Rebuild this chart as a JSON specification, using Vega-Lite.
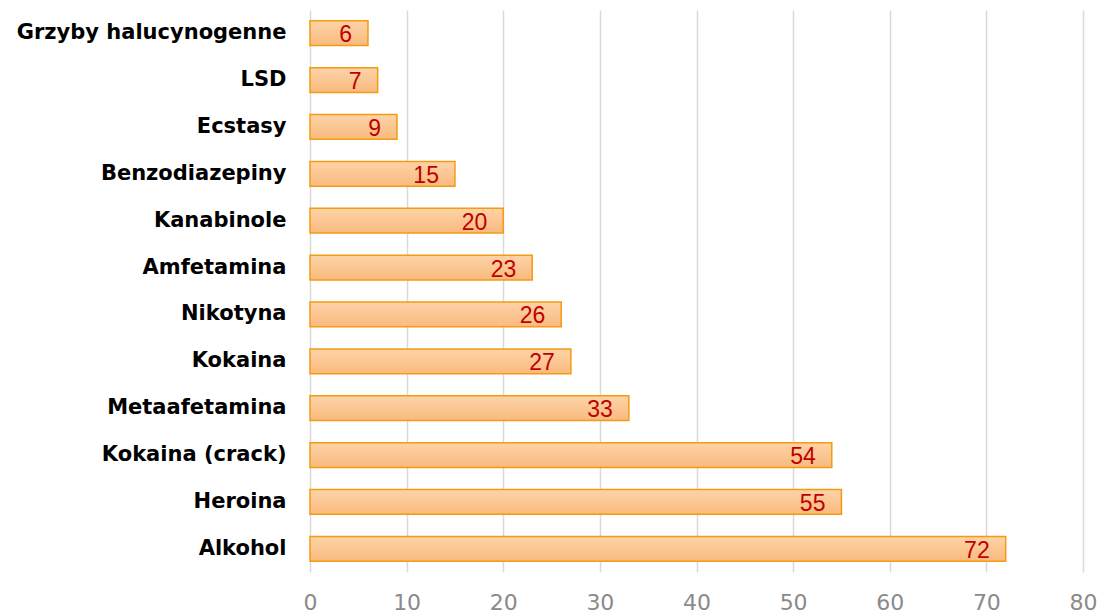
{
  "$schema": "https://vega.github.io/schema/vega-lite/v6.json",
  "width": 773,
  "height": 562,
  "autosize": {"type": "none"},
  "padding": {"left": 310, "top": 10, "right": 18, "bottom": 43},
  "background": "white",
  "data": {"values": [
    {"substancja": "Grzyby halucynogenne", "wartosc": 6},
    {"substancja": "LSD", "wartosc": 7},
    {"substancja": "Ecstasy", "wartosc": 9},
    {"substancja": "Benzodiazepiny", "wartosc": 15},
    {"substancja": "Kanabinole", "wartosc": 20},
    {"substancja": "Amfetamina", "wartosc": 23},
    {"substancja": "Nikotyna", "wartosc": 26},
    {"substancja": "Kokaina", "wartosc": 27},
    {"substancja": "Metaafetamina", "wartosc": 33},
    {"substancja": "Kokaina (crack)", "wartosc": 54},
    {"substancja": "Heroina \u00a0", "wartosc": 55},
    {"substancja": "Alkohol", "wartosc": 72}
  ]},
  "encoding": {
    "y": {
      "field": "substancja", "type": "nominal", "sort": null,
      "scale": {"paddingInner": 0.47, "paddingOuter": 0.23},
      "axis": {"title": null, "domain": false, "ticks": false, "grid": false,
        "labelFont": "DejaVu Sans", "labelFontSize": 21, "labelFontWeight": "bold",
        "labelColor": "#000000", "labelPadding": 24, "labelLimit": 400}
    },
    "x": {
      "field": "wartosc", "type": "quantitative",
      "scale": {"domain": [0, 80], "nice": false},
      "axis": {"title": null, "values": [0,10,20,30,40,50,60,70,80], "domain": false, "ticks": false,
        "grid": true, "gridColor": "#d9d9d9", "gridWidth": 1.5,
        "labelFont": "DejaVu Sans", "labelFontSize": 22, "labelColor": "#8a8a8a",
        "labelPadding": 20, "labelFlush": false}
    }
  },
  "layer": [
    {
      "mark": {"type": "bar", "stroke": "#f39c12", "strokeWidth": 1.5,
        "fill": {"gradient": "linear", "x1": 0, "y1": 0, "x2": 0, "y2": 1,
          "stops": [{"offset": 0, "color": "#fdd3a8"}, {"offset": 1, "color": "#f9ba7e"}]}}
    },
    {
      "mark": {"type": "text", "align": "right", "baseline": "middle", "dx": -16, "dy": 2,
        "font": "Liberation Sans", "fontSize": 23, "color": "#c00000"},
      "encoding": {"text": {"field": "wartosc", "type": "quantitative"}}
    }
  ],
  "config": {"view": {"stroke": null}}
}
